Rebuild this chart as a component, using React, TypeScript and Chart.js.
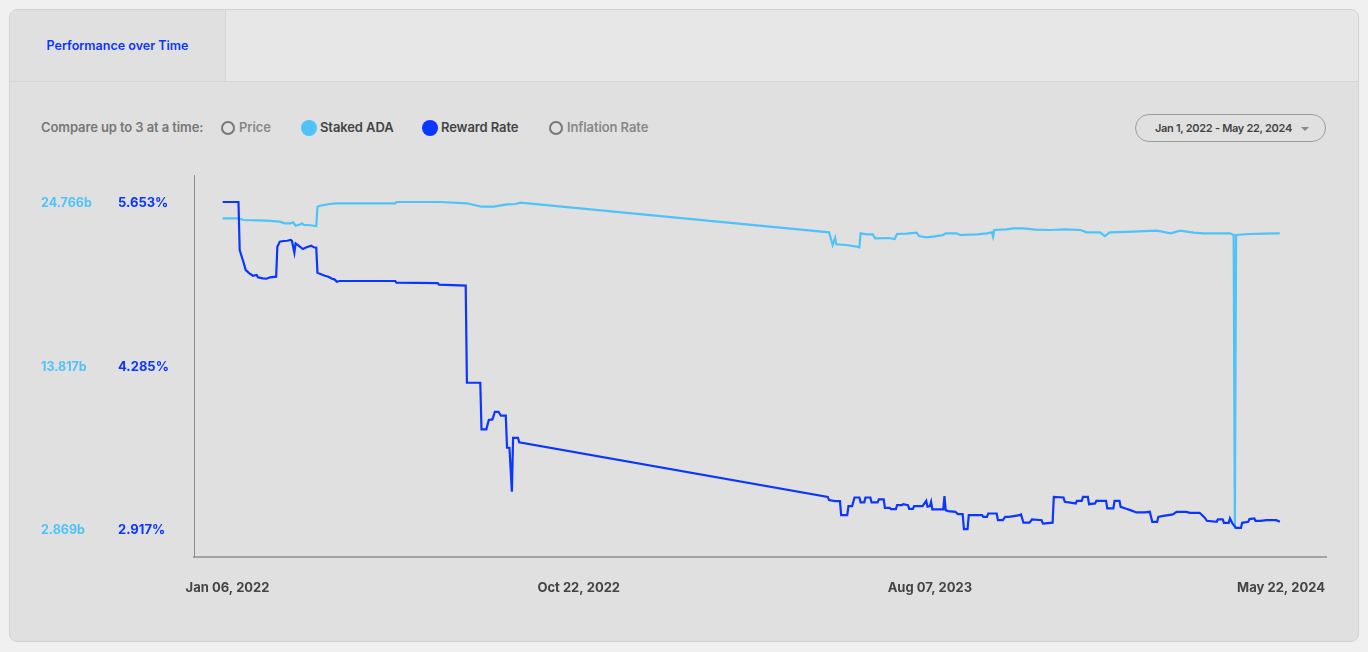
import React, { useEffect, useRef } from "react";
import { Chart, registerables } from "chart.js";

Chart.register(...registerables);

const FONT = 'Inter, "Noto Sans", "DejaVu Sans", sans-serif';

// x values are days since START_DATE
const START_DATE = "2022-01-01";
const X_TICK_DATES = ["2022-01-06", "2022-10-22", "2023-08-07", "2024-05-22"];
const X_TICK_LABELS = ["Jan 06, 2022", "Oct 22, 2022", "Aug 07, 2023", "May 22, 2024"];
const ADA_TICKS = [2.869, 13.817, 24.766];
const RATE_TICKS = [2.917, 4.285, 5.653];

const ADA_DAYS = [
  1, 14, 18, 37, 48, 52, 57, 59, 61, 65, 66, 68, 71, 78, 79, 81, 89, 95, 143, 144,
  180, 202, 214, 224, 235, 242, 246, 500, 503, 505, 506, 514, 523, 525, 526, 531, 536, 538, 549, 554,
  556, 564, 572, 574, 580, 587, 594, 596, 605, 608, 622, 630, 634, 635, 636, 646, 652, 660, 670, 682,
  694, 707, 712, 723, 727, 731, 750, 770, 781, 789, 800, 808, 830, 833, 834, 835, 846, 858, 871,
];
const ADA_VALUES = [
  23.674, 23.674, 23.561, 23.514, 23.447, 23.34, 23.34, 23.407, 23.179, 23.273, 23.34, 23.226, 23.226, 23.159, 24.451, 24.518, 24.632, 24.679, 24.679, 24.766,
  24.766, 24.679, 24.451, 24.451, 24.612, 24.632, 24.719, 22.737, 21.886, 22.375, 21.933, 21.886, 21.773, 21.732, 22.67, 22.603, 22.603, 22.335, 22.355, 22.288,
  22.623, 22.643, 22.71, 22.489, 22.402, 22.469, 22.556, 22.67, 22.67, 22.556, 22.603, 22.67, 22.737, 22.442, 22.891, 22.938, 23.005, 23.005, 22.911, 22.891,
  22.938, 22.891, 22.737, 22.737, 22.489, 22.737, 22.777, 22.844, 22.67, 22.844, 22.71, 22.67, 22.67, 22.556, 2.869, 22.556, 22.623, 22.643, 22.67,
];

const RATE_DAYS = [
  1, 14, 15, 16, 18, 20, 23, 26, 29, 30, 34, 37, 40, 45, 46, 48, 51, 54, 57, 58,
  60, 61, 63, 67, 70, 74, 76, 78, 79, 82, 85, 88, 91, 93, 95, 97, 143, 144, 178, 179,
  201, 202, 213, 214, 218, 220, 223, 225, 228, 230, 234, 235, 237, 239, 240, 244, 245, 499, 500, 505,
  509, 510, 515, 516, 519, 521, 525, 526, 529, 530, 534, 535, 540, 541, 545, 546, 550, 551, 555, 556,
  560, 561, 565, 566, 569, 570, 577, 580, 581, 583, 584, 585, 594, 595, 596, 598, 604, 606, 610, 611,
  614, 615, 626, 627, 630, 631, 638, 639, 643, 645, 648, 657, 658, 660, 665, 667, 675, 676, 684, 685,
  693, 694, 703, 704, 708, 709, 713, 714, 719, 720, 728, 729, 734, 735, 739, 740, 744, 748, 753, 760,
  764, 766, 770, 771, 774, 783, 786, 794, 797, 805, 809, 811, 819, 820, 824, 825, 829, 830, 832, 835,
  839, 840, 845, 846, 850, 851, 855, 860, 868, 871,
];
const RATE_VALUES = [
  5.653, 5.653, 5.251, 5.218, 5.153, 5.084, 5.056, 5.036, 5.042, 5.023, 5.014, 5.011, 5.023, 5.028, 5.279, 5.321, 5.327, 5.329, 5.335, 5.327,
  5.229, 5.307, 5.293, 5.26, 5.274, 5.287, 5.274, 5.271, 5.061, 5.048, 5.036, 5.028, 5.011, 5.006, 4.986, 4.992, 4.992, 4.978, 4.975, 4.961,
  4.953, 4.141, 4.141, 3.751, 3.751, 3.829, 3.834, 3.898, 3.898, 3.865, 3.865, 3.597, 3.597, 3.229, 3.68, 3.68, 3.642, 3.186, 3.159, 3.15,
  3.15, 3.033, 3.033, 3.109, 3.109, 3.181, 3.181, 3.14, 3.14, 3.181, 3.181, 3.14, 3.14, 3.165, 3.165, 3.094, 3.094, 3.083, 3.083, 3.117,
  3.117, 3.125, 3.117, 3.086, 3.086, 3.109, 3.109, 3.153, 3.104, 3.109, 3.145, 3.081, 3.081, 3.192, 3.075, 3.067, 3.061, 3.042, 3.042, 2.917,
  2.917, 3.033, 3.033, 3.019, 3.019, 3.047, 3.047, 2.991, 2.991, 3.019, 3.019, 3.033, 3.039, 2.97, 2.97, 2.997, 2.991, 2.963, 2.97, 3.186,
  3.181, 3.145, 3.131, 3.153, 3.153, 3.186, 3.186, 3.125, 3.131, 3.153, 3.153, 3.089, 3.089, 3.153, 3.153, 3.103, 3.089, 3.075, 3.056, 3.056,
  3.061, 2.977, 2.977, 3.019, 3.025, 3.039, 3.061, 3.061, 3.053, 3.053, 3.014, 2.986, 2.977, 2.997, 2.997, 2.969, 2.969, 3.006, 2.964, 2.927,
  2.927, 2.969, 2.977, 3.0, 3.006, 2.986, 2.986, 2.991, 2.991, 2.977,
];

const ADA_COLOR = "#4fc3f7";
const RATE_COLOR = "#0a36ff";

function dayOf(date: string): number {
  const [y, m, d] = date.split("-").map(Number);
  const [y0, m0, d0] = START_DATE.split("-").map(Number);
  return (Date.UTC(y, m - 1, d) - Date.UTC(y0, m0 - 1, d0)) / 86400000;
}

export default function App() {
  const canvasRef = useRef<HTMLCanvasElement | null>(null);

  useEffect(() => {
    if (!canvasRef.current) return;
    const xTicks = X_TICK_DATES.map(dayOf);
    const chart = new Chart(canvasRef.current, {
      type: "line",
      data: {
        datasets: [
          {
            label: "Reward Rate",
            data: RATE_DAYS.map((d, i) => ({ x: d, y: RATE_VALUES[i] })),
            borderColor: RATE_COLOR,
            borderWidth: 2.2,
            pointRadius: 0,
            tension: 0,
            yAxisID: "yRate",
          },
          {
            label: "Staked ADA",
            data: ADA_DAYS.map((d, i) => ({ x: d, y: ADA_VALUES[i] })),
            borderColor: ADA_COLOR,
            borderWidth: 2.2,
            pointRadius: 0,
            tension: 0,
            yAxisID: "yAda",
          },
        ],
      },
      options: {
        animation: false,
        responsive: true,
        maintainAspectRatio: false,
        layout: { padding: { top: 10, right: 15, bottom: 0, left: 0 } },
        plugins: { legend: { display: false }, tooltip: { enabled: false } },
        scales: {
          x: {
            type: "linear",
            min: -22.6,
            max: 909,
            grid: {
              display: true,
              drawOnChartArea: false,
              drawTicks: true,
              tickLength: 23,
              color: "rgba(0,0,0,0)",
            },
            border: { display: true, color: "#a3a3a3", width: 2 },
            afterBuildTicks: (scale: any) => {
              scale.ticks = xTicks.map((v) => ({ value: v }));
            },
            afterFit: (scale: any) => {
              scale.height = 40;
            },
            ticks: {
              autoSkip: false,
              maxRotation: 0,
              minRotation: 0,
              padding: 0,
              color: "#444444",
              font: { family: FONT, size: 13, weight: "bold" },
              callback: (_v: any, i: number) => X_TICK_LABELS[i],
            },
          },
          yAda: {
            type: "linear",
            position: "left",
            weight: 1,
            min: 0.993,
            max: 26.574,
            grid: { display: false, drawTicks: false },
            border: { display: false },
            afterBuildTicks: (scale: any) => {
              scale.ticks = ADA_TICKS.map((v) => ({ value: v }));
            },
            afterFit: (scale: any) => {
              scale.width = 77;
            },
            ticks: {
              autoSkip: false,
              crossAlign: "far",
              padding: 0,
              labelOffset: 1.5,
              color: ADA_COLOR,
              font: { family: FONT, size: 12.5, weight: "bold" },
              callback: (v: any) => Number(v).toFixed(3) + "b",
            },
          },
          yRate: {
            type: "linear",
            position: "left",
            weight: 0,
            min: 2.683,
            max: 5.879,
            grid: { display: false, drawTicks: false },
            border: { display: true, color: "#8c8c8c", width: 1 },
            afterBuildTicks: (scale: any) => {
              scale.ticks = RATE_TICKS.map((v) => ({ value: v }));
            },
            afterFit: (scale: any) => {
              scale.width = 76;
            },
            ticks: {
              autoSkip: false,
              crossAlign: "far",
              padding: 0,
              labelOffset: 1.5,
              color: RATE_COLOR,
              font: { family: FONT, size: 13, weight: "bold" },
              callback: (v: any) => Number(v).toFixed(3) + "%",
            },
          },
        },
      } as any,
    });
    return () => chart.destroy();
  }, []);

  const textBase: React.CSSProperties = {
    position: "absolute",
    fontFamily: FONT,
    fontSize: 13,
    fontWeight: 600,
    lineHeight: "16px",
    letterSpacing: "-0.1px",
    whiteSpace: "nowrap",
  };
  const outlineDot = (left: number): React.CSSProperties => ({
    position: "absolute",
    left,
    top: 121,
    width: 14,
    height: 14,
    boxSizing: "border-box",
    border: "2px solid #777777",
    borderRadius: "50%",
  });
  const filledDot = (left: number, color: string): React.CSSProperties => ({
    position: "absolute",
    left,
    top: 120,
    width: 16,
    height: 16,
    borderRadius: "50%",
    background: color,
  });

  return (
    <div style={{ position: "fixed", left: 0, top: 0, width: 1368, height: 652, background: "#f0f0f0", overflow: "hidden" }}>
      <div
        style={{
          position: "absolute",
          left: 9,
          top: 9,
          width: 1350,
          height: 633,
          boxSizing: "border-box",
          border: "1px solid #d2d2d2",
          borderRadius: 8,
          background: "#e0e0e0",
          overflow: "hidden",
        }}
      >
        <div
          style={{
            position: "absolute",
            left: 0,
            top: 0,
            width: "100%",
            height: 72,
            boxSizing: "border-box",
            background: "#e7e7e7",
            borderBottom: "1px solid #d6d6d6",
          }}
        >
          <div
            style={{
              position: "absolute",
              left: 0,
              top: 0,
              width: 216,
              height: 71,
              boxSizing: "border-box",
              background: "#e0e0e0",
              borderRight: "1px solid #d6d6d6",
              display: "flex",
              alignItems: "center",
              justifyContent: "center",
              fontFamily: FONT,
              fontSize: 12.5,
              fontWeight: 600,
              color: "#0a36ff",
              paddingBottom: 1,
            }}
          >
            Performance over Time
          </div>
        </div>
      </div>

      <div style={{ ...textBase, left: 41, top: 119, color: "#777777" }}>Compare up to 3 at a time:</div>
      <div style={outlineDot(221)} />
      <div style={{ ...textBase, left: 239, top: 119, color: "#888888" }}>Price</div>
      <div style={filledDot(301, ADA_COLOR)} />
      <div style={{ ...textBase, left: 320, top: 119, color: "#444444" }}>Staked ADA</div>
      <div style={filledDot(422, RATE_COLOR)} />
      <div style={{ ...textBase, left: 441, top: 119, color: "#444444" }}>Reward Rate</div>
      <div style={outlineDot(549)} />
      <div style={{ ...textBase, left: 567, top: 119, color: "#888888" }}>Inflation Rate</div>

      <div
        style={{
          position: "absolute",
          left: 1135,
          top: 114,
          width: 191,
          height: 28,
          boxSizing: "border-box",
          border: "1px solid #9c9c9c",
          borderRadius: 14,
        }}
      >
        <div style={{ ...textBase, left: 19, top: 5, fontSize: 11, letterSpacing: "-0.3px", color: "#444444" }}>
          Jan 1, 2022 - May 22, 2024
        </div>
        <div
          style={{
            position: "absolute",
            left: 165,
            top: 12,
            width: 0,
            height: 0,
            borderLeft: "4px solid transparent",
            borderRight: "4px solid transparent",
            borderTop: "4px solid #888888",
          }}
        />
      </div>

      <div style={{ position: "absolute", left: 41, top: 165, width: 1300, height: 432 }}>
        <canvas ref={canvasRef} />
      </div>
    </div>
  );
}
